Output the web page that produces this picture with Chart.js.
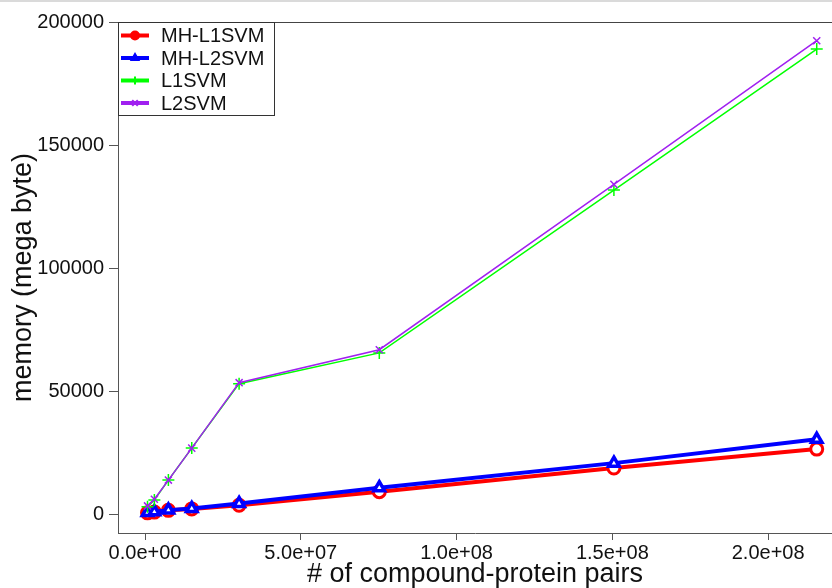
<!DOCTYPE html>
<html>
<head>
<meta charset="utf-8">
<script src="https://cdn.jsdelivr.net/npm/chart.js@4.4.1/dist/chart.umd.min.js"></script>
<style>
html, body { margin: 0; padding: 0; background: #fff; }
#wrap { width: 832px; height: 588px; }
</style>
</head>
<body>
<div id="wrap"><canvas id="memChart" width="832" height="588"></canvas></div>
<script>
// number of compound-protein pairs (x) and memory in MB per method
const pairs = [0.8e6, 3.0e6, 7.5e6, 15.0e6, 30.2e6, 75.2e6, 150.5e6, 215.6e6];
const mhL1 = [500, 800, 1500, 2100, 3600, 9100, 18700, 26400];
const mhL2 = [600, 900, 1600, 2300, 4300, 10700, 20700, 30400];
const l1svm = [3000, 5700, 13800, 26800, 53000, 65500, 131700, 189000];
const l2svm = [3300, 6000, 13800, 26800, 53400, 66800, 134000, 192400];

const seriesNames = ['MH-L1SVM', 'MH-L2SVM', 'L1SVM', 'L2SVM'];
const yTicks = [0, 50000, 100000, 150000, 200000];
const xTicks = [0, 5e7, 1e8, 1.5e8, 2e8];
const xTickLabels = ['0.0e+00', '5.0e+07', '1.0e+08', '1.5e+08', '2.0e+08'];

const FONT = '"Liberation Sans", Arial, sans-serif';
Chart.defaults.font.family = FONT;

function pts(ys) {
    return pairs.map((x, i) => ({ x: x, y: ys[i] }));
}

// top frame line + thin grey line at the very top of the picture
const frameTop = {
    id: 'frameTop',
    afterDraw(chart) {
        const { ctx, chartArea: a } = chart;
        ctx.save();
        ctx.lineWidth = 1;
        ctx.strokeStyle = '#444';
        ctx.beginPath();
        ctx.moveTo(a.left, a.top + 0.5);
        ctx.lineTo(chart.width, a.top + 0.5);
        ctx.stroke();
        ctx.strokeStyle = '#b5b5b5';
        ctx.beginPath();
        ctx.moveTo(0, 1);
        ctx.lineTo(chart.width, 1);
        ctx.stroke();
        ctx.restore();
    }
};

// legend box in the top-left corner of the plot
const boxLegend = {
    id: 'boxLegend',
    afterDraw(chart) {
        const { ctx, chartArea: a } = chart;
        const x0 = a.left, y0 = a.top, w = 156, h = 93;
        ctx.save();
        ctx.fillStyle = '#fff';
        ctx.fillRect(x0, y0, w, h);
        ctx.strokeStyle = '#333';
        ctx.lineWidth = 1;
        ctx.strokeRect(x0 + 0.5, y0 + 0.5, w, h);
        const rows = [13.5, 36, 58.5, 81];
        chart.data.datasets.forEach((ds, i) => {
            const y = y0 + rows[i];
            ctx.strokeStyle = ds.borderColor;
            ctx.fillStyle = ds.borderColor;
            ctx.lineWidth = 4;
            ctx.beginPath();
            ctx.moveTo(x0 + 3, y);
            ctx.lineTo(x0 + 31, y);
            ctx.stroke();
            ctx.lineWidth = 2;
            Chart.helpers.drawPoint(ctx, {
                pointStyle: ds.pointStyle,
                radius: 4,
                rotation: 0,
                borderWidth: 2
            }, x0 + 17, y);
            ctx.fillStyle = '#111';
            ctx.font = '20px ' + FONT;
            ctx.textBaseline = 'middle';
            ctx.textAlign = 'left';
            ctx.fillText(seriesNames[i], x0 + 43, y + 1);
        });
        ctx.restore();
    }
};

new Chart(document.getElementById('memChart'), {
    type: 'line',
    data: {
        datasets: [
            {
                label: seriesNames[0],
                data: pts(mhL1),
                borderColor: '#ff0000',
                borderWidth: 4,
                pointStyle: 'circle',
                pointRadius: 6,
                pointBorderWidth: 3,
                pointBackgroundColor: '#fff',
                order: 4
            },
            {
                label: seriesNames[1],
                data: pts(mhL2),
                borderColor: '#0000ff',
                borderWidth: 4,
                pointStyle: 'triangle',
                pointRadius: 6,
                pointBorderWidth: 3.5,
                pointBackgroundColor: '#fff',
                order: 3
            },
            {
                label: seriesNames[2],
                data: pts(l1svm),
                borderColor: '#00ff00',
                borderWidth: 1.5,
                pointStyle: 'cross',
                pointRadius: 6,
                pointBorderWidth: 1.5,
                order: 2
            },
            {
                label: seriesNames[3],
                data: pts(l2svm),
                borderColor: '#a020f0',
                borderWidth: 1.5,
                pointStyle: 'crossRot',
                pointRadius: 5,
                pointBorderWidth: 1.5,
                order: 1
            }
        ]
    },
    options: {
        responsive: false,
        animation: false,
        events: [],
        layout: { autoPadding: false, padding: { top: 22, right: 0, left: 0, bottom: 0 } },
        plugins: {
            legend: { display: false },
            tooltip: { enabled: false }
        },
        elements: { line: { tension: 0, fill: false } },
        scales: {
            x: {
                type: 'linear',
                min: -8.67e6,
                max: 2.205e8,
                afterBuildTicks: s => { s.ticks = xTicks.map(v => ({ value: v })); },
                afterFit: s => { s.height = 55; s.paddingLeft = 0; s.paddingRight = 0; },
                ticks: {
                    callback: (v, i) => xTickLabels[i],
                    font: { size: 20 },
                    color: '#111',
                    maxRotation: 0,
                    autoSkip: false,
                    padding: 1
                },
                grid: { drawOnChartArea: false, drawTicks: true, tickLength: 7, tickColor: '#555' },
                border: { color: '#555', width: 1 },
                title: {
                    display: true,
                    text: '# of compound-protein pairs',
                    font: { size: 27, lineHeight: 1 },
                    color: '#111',
                    padding: 0
                }
            },
            y: {
                min: -7700,
                max: 200000,
                afterBuildTicks: s => { s.ticks = yTicks.map(v => ({ value: v })); },
                afterFit: s => { s.width = 118; },
                ticks: {
                    callback: v => String(v),
                    font: { size: 20 },
                    color: '#111',
                    padding: 5
                },
                grid: { drawOnChartArea: false, drawTicks: true, tickLength: 9, tickColor: '#555' },
                border: { color: '#555', width: 1 },
                title: {
                    display: true,
                    text: 'memory (mega byte)',
                    font: { size: 27, lineHeight: 1 },
                    color: '#111',
                    padding: { top: 10, bottom: 0 }
                }
            }
        }
    },
    plugins: [frameTop, boxLegend]
});
</script>
</body>
</html>
